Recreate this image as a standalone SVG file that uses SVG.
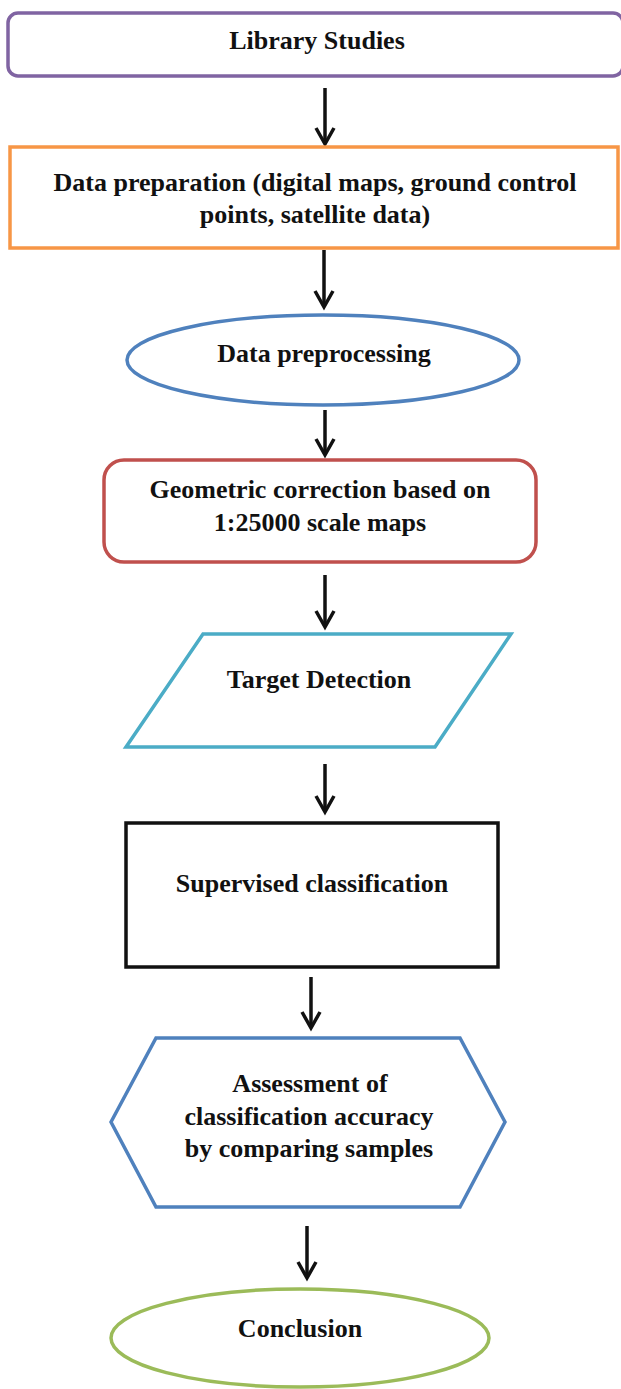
<svg xmlns="http://www.w3.org/2000/svg" width="621" height="1389" viewBox="0 0 621 1389">
<style>
.t{font-family:"Liberation Serif","Times New Roman",serif;font-weight:bold;font-size:26px;fill:#111;text-anchor:middle}
.s{fill:#fff;stroke-width:3.5}
.c line{stroke:#111;stroke-width:3.5}
.c polyline{fill:none;stroke:#111;stroke-width:3.5;stroke-linejoin:miter}
</style>
<rect width="621" height="1389" fill="#fff"/>
<g id="connectors" class="c">
<line x1="325" y1="88" x2="325" y2="143"/><polyline points="316,128 325,144 334,128"/>
<line x1="324" y1="250" x2="324" y2="306"/><polyline points="315,291 324,307 333,291"/>
<line x1="325" y1="410" x2="325" y2="454"/><polyline points="316,439 325,455 334,439"/>
<line x1="325" y1="575" x2="325" y2="626"/><polyline points="316,611 325,627 334,611"/>
<line x1="325" y1="764" x2="325" y2="811"/><polyline points="316,796 325,812 334,796"/>
<line x1="311" y1="977" x2="311" y2="1027"/><polyline points="302,1012 311,1028 320,1012"/>
<line x1="307" y1="1226" x2="307" y2="1277"/><polyline points="298,1262 307,1278 316,1262"/>
</g>
<g id="n1"><rect class="s" x="8" y="13" width="615" height="63" rx="10" stroke="#8064A2"/><text class="t" x="317" y="49">Library Studies</text></g>
<g id="n2"><rect class="s" x="10" y="147" width="608" height="101" stroke="#F79646"/><text class="t" x="315" y="191">Data preparation (digital maps, ground control</text><text class="t" x="315" y="223">points, satellite data)</text></g>
<g id="n3"><ellipse class="s" cx="323" cy="360" rx="196" ry="45" stroke="#4F81BD"/><text class="t" x="324" y="362">Data preprocessing</text></g>
<g id="n4"><rect class="s" x="104" y="460" width="432" height="102" rx="20" stroke="#C0504D"/><text class="t" x="320" y="498">Geometric correction based on</text><text class="t" x="320" y="531">1:25000 scale maps</text></g>
<g id="n5"><polygon class="s" points="203,634 511,634 435,747 126,747" stroke="#4BACC6"/><text class="t" x="319" y="688">Target Detection</text></g>
<g id="n6"><rect class="s" x="126" y="823" width="372" height="144" stroke="#111"/><text class="t" x="312" y="892">Supervised classification</text></g>
<g id="n7"><polygon class="s" points="111,1122 156,1038 460,1038 505,1122 460,1207 156,1207" stroke="#4F81BD"/><text class="t" x="310" y="1092">Assessment of</text><text class="t" x="309" y="1125">classification accuracy</text><text class="t" x="309" y="1157">by comparing samples</text></g>
<g id="n8"><ellipse class="s" cx="300" cy="1338" rx="189" ry="49" stroke="#9BBB59"/><text class="t" x="300" y="1337">Conclusion</text></g>
</svg>
